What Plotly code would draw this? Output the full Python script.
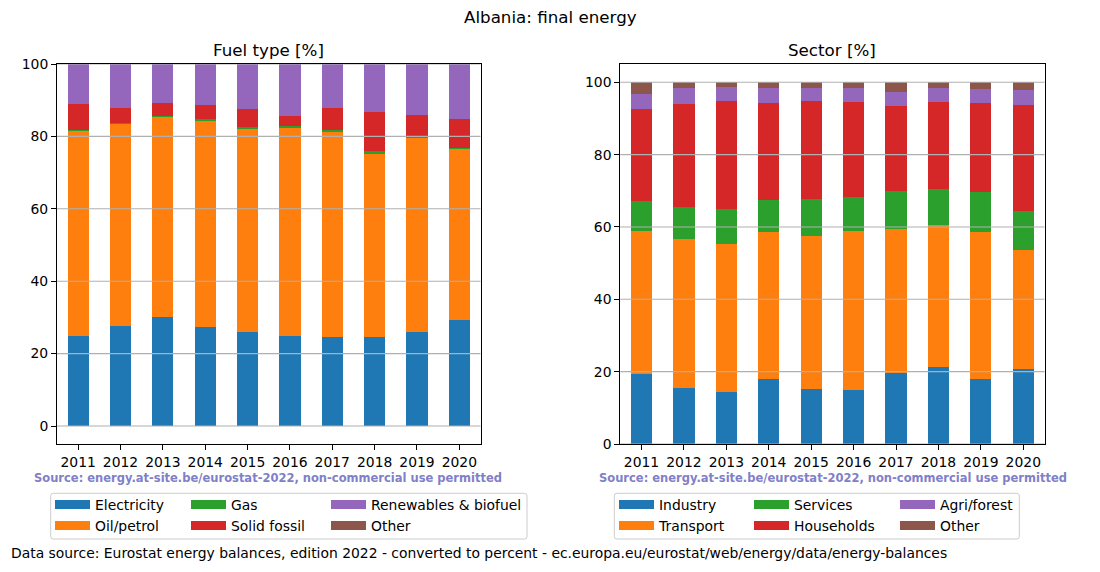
import plotly.graph_objects as go

W, H = 1100, 572
# the page places the figure 8px from the top-left corner; positions below are given in
# screen pixels and converted here
OX, OY = 8, 8

years = ["2011", "2012", "2013", "2014", "2015", "2016", "2017", "2018", "2019", "2020"]

# Fuel type [%]
fuel_electricity = [24.9, 27.6, 30.1, 27.4, 26.0, 24.9, 24.6, 24.6, 26.0, 29.3]
fuel_oil = [56.7, 55.9, 55.3, 56.9, 56.1, 57.5, 56.7, 50.6, 53.6, 47.3]
fuel_gas = [0.3, 0.1, 0.3, 0.4, 0.6, 0.5, 0.5, 0.7, 0.3, 0.3]
fuel_solid = [7.0, 4.3, 3.6, 4.1, 4.9, 2.8, 6.1, 10.9, 6.1, 8.0]
fuel_renew = [11.1, 12.1, 10.7, 11.2, 12.4, 14.3, 12.1, 13.2, 14.0, 15.1]
fuel_other = [0.0, 0.0, 0.0, 0.0, 0.0, 0.0, 0.0, 0.0, 0.0, 0.0]

# Sector [%]
sec_industry = [19.4, 15.5, 14.4, 18.0, 15.2, 14.9, 19.6, 21.3, 18.0, 20.7]
sec_transport = [39.5, 41.2, 40.9, 40.6, 42.3, 44.0, 39.8, 39.3, 40.6, 32.9]
sec_services = [8.3, 8.8, 9.7, 8.9, 10.2, 9.4, 10.6, 9.9, 11.1, 10.8]
sec_households = [25.4, 28.5, 29.8, 26.8, 27.1, 26.3, 23.5, 24.1, 24.6, 29.3]
sec_agri = [4.2, 4.4, 3.9, 4.1, 3.6, 3.8, 3.8, 3.8, 3.9, 4.2]
sec_other = [3.2, 1.6, 1.3, 1.6, 1.6, 1.6, 2.7, 1.6, 1.8, 2.1]

fuel_names = ["Electricity", "Oil/petrol", "Gas", "Solid fossil", "Renewables & biofuel", "Other"]
fuel_series = [fuel_electricity, fuel_oil, fuel_gas, fuel_solid, fuel_renew, fuel_other]
sec_names = ["Industry", "Transport", "Services", "Households", "Agri/forest", "Other"]
sec_series = [sec_industry, sec_transport, sec_services, sec_households, sec_agri, sec_other]

colors = ["#1f77b4", "#ff7f0e", "#2ca02c", "#d62728", "#9467bd", "#8c564b"]
y_ticks = [0, 20, 40, 60, 80, 100]

FONT = "DejaVu Sans"
FS = 13.9

def px_x(p):
    return (p - OX) / W

def px_y(p):
    return 1 - (p - OY) / H

fig = go.Figure()

left_legends = ["legend", "legend2", "legend3"]
right_legends = ["legend4", "legend5", "legend6"]

def add_group(names, series, xa, ya, legends, prefix):
    for i, (name, vals) in enumerate(zip(names, series)):
        grp = prefix + name
        fig.add_trace(go.Bar(x=years, y=vals, name=name, marker=dict(color=colors[i], line=dict(width=0)),
                             xaxis=xa, yaxis=ya, legendgroup=grp, showlegend=False, hoverinfo="x+y+name"))
    for i, name in enumerate(names):
        grp = prefix + name
        # legend-only entry (wide swatch like the reference)
        fig.add_trace(go.Scatter(x=[None], y=[None], mode="lines", name=name,
                                 line=dict(color=colors[i], width=9), xaxis=xa, yaxis=ya,
                                 legendgroup=grp, legend=legends[i // 2], hoverinfo="skip"))

add_group(fuel_names, fuel_series, "x", "y", left_legends, "fuel_")
add_group(sec_names, sec_series, "x2", "y2", right_legends, "sec_")

axis_common = dict(showline=True, linecolor="black", linewidth=1, mirror=True,
                   ticks="outside", ticklen=5, tickcolor="black", tickwidth=1, automargin=False,
                   tickfont=dict(family=FONT, size=FS, color="black"), zeroline=False, showgrid=False)

ydom = [px_y(444), px_y(64)]
layout = dict(
    width=W, height=H, autosize=False,
    margin=dict(l=0, r=0, t=0, b=0, pad=0, autoexpand=False),
    paper_bgcolor="white", plot_bgcolor="white",
    barmode="stack", bargap=0.5,
    font=dict(family=FONT, size=FS, color="black"),
    xaxis=dict(domain=[px_x(57), px_x(480.5)], anchor="y", type="category", **axis_common),
    yaxis=dict(domain=ydom, anchor="x", range=[-4.97, 100], tickvals=y_ticks, **axis_common),
    xaxis2=dict(domain=[px_x(620.3), px_x(1044.5)], anchor="y2", type="category", **axis_common),
    yaxis2=dict(domain=ydom, anchor="x2", range=[0, 105.06], tickvals=y_ticks, **axis_common),
)

legend_x_left = [50, 186, 326]
legend_x_right = [614, 749, 895]
for lname, lx in list(zip(left_legends, legend_x_left)) + list(zip(right_legends, legend_x_right)):
    layout[lname] = dict(orientation="v", x=px_x(lx), xanchor="left", y=px_y(489), yanchor="top",
                         bgcolor="rgba(0,0,0,0)", borderwidth=0, traceorder="normal", itemwidth=35,
                         font=dict(family=FONT, size=FS, color="black"))

fig.update_layout(**layout)

# horizontal grid lines drawn above the bars (as in the reference)
for xa, ya in [("x", "y"), ("x2", "y2")]:
    for v in y_ticks:
        fig.add_shape(type="line", xref=f"{xa} domain", yref=ya, x0=0, x1=1, y0=v, y1=v,
                      line=dict(color="#b0b0b0", width=1.1), layer="above")

def rounded_rect(x0, y0, x1, y1, r=2.5):
    X0, X1 = px_x(x0), px_x(x1)
    Y0, Y1 = px_y(y0), px_y(y1)
    rx, ry = r / W, r / H
    return (f"M {X0+rx},{Y0} L {X1-rx},{Y0} Q {X1},{Y0} {X1},{Y0-ry} "
            f"L {X1},{Y1+ry} Q {X1},{Y1} {X1-rx},{Y1} L {X0+rx},{Y1} Q {X0},{Y1} {X0},{Y1+ry} "
            f"L {X0},{Y0-ry} Q {X0},{Y0} {X0+rx},{Y0} Z")

for (x0, x1) in [(50.7, 527), (614.3, 1019.3)]:
    fig.add_shape(type="path", path=rounded_rect(x0, 493.3, x1, 539), xref="paper", yref="paper",
                  line=dict(color="#cccccc", width=1), fillcolor="rgba(255,255,255,0.8)", layer="below")

ann = []
ann.append(dict(text="Albania: final energy", x=px_x(550), y=px_y(17), xref="paper", yref="paper",
                showarrow=False, xanchor="center", yanchor="middle", font=dict(family=FONT, size=16.7, color="black")))
ann.append(dict(text="Fuel type [%]", x=px_x(268.7), y=px_y(50), xref="paper", yref="paper",
                showarrow=False, xanchor="center", yanchor="middle", font=dict(family=FONT, size=16.7, color="black")))
ann.append(dict(text="Sector [%]", x=px_x(832.4), y=px_y(50), xref="paper", yref="paper",
                showarrow=False, xanchor="center", yanchor="middle", font=dict(family=FONT, size=16.7, color="black")))
src = "<b>Source: energy.at-site.be/eurostat-2022, non-commercial use permitted</b>"
for cx in [267.8, 832.6]:
    ann.append(dict(text=src, x=px_x(cx), y=px_y(478), xref="paper", yref="paper",
                    showarrow=False, xanchor="center", yanchor="middle",
                    font=dict(family=FONT, size=11.5, color="rgb(128,128,200)")))
ann.append(dict(text="Data source: Eurostat energy balances, edition 2022 - converted to percent - ec.europa.eu/eurostat/web/energy/data/energy-balances",
                x=px_x(9), y=px_y(553), xref="paper", yref="paper", showarrow=False,
                xanchor="left", yanchor="middle", font=dict(family=FONT, size=FS, color="black")))
fig.update_layout(annotations=ann)

fig.write_html("out.html")
